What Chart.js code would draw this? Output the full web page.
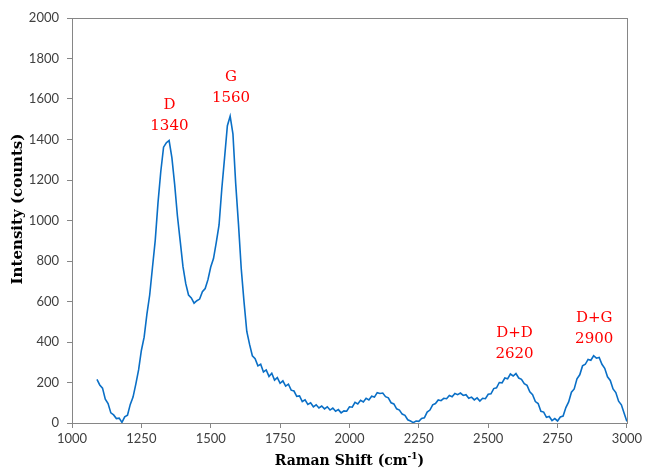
<!DOCTYPE html>
<html lang="en">
<head>
  <meta charset="UTF-8">
  <title>Raman Spectrum</title>
  <script src="https://cdn.jsdelivr.net/npm/chart.js@4.4.0/dist/chart.umd.min.js"></script>
  <style>
    body {
      margin: 0;
      padding: 0;
      background-color: #ffffff;
    }

    #chartBox {
      width: 645px;
      height: 471px;
    }
  </style>
</head>
<body>
  <div id="chartBox">
    <canvas id="ramanChart"></canvas>
  </div>

  <script>
    // Raman shift grid (cm-1): first point and spacing
    const shiftStart = 1090;
    const shiftStep = 10;

    // Intensity (counts), one value per grid step, 1090 .. 3000
    const intensity = [
      215, 188, 172, 118, 96, 50, 40, 22, 24, 3,                 // 1090-1180
      30, 38, 92, 128, 192, 262, 358, 424, 538, 632,             // 1190-1280
      768, 902, 1088, 1242, 1362, 1384, 1395, 1310, 1178, 1022,  // 1290-1380
      898, 772, 688, 632, 618, 592, 604, 612, 648, 664,          // 1390-1480
      708, 770, 812, 892, 978, 1158, 1312, 1468, 1515, 1428,     // 1490-1580
      1182, 982, 762, 598, 452, 388, 332, 318, 282, 290,         // 1590-1680
      252, 262, 230, 246, 212, 224, 196, 208, 182, 192,          // 1690-1780
      162, 158, 132, 134, 106, 114, 92, 100, 80, 90,             // 1790-1880
      74, 84, 70, 80, 64, 74, 58, 66, 50, 60,                    // 1890-1980
      58, 80, 78, 102, 94, 112, 104, 122, 114, 132,              // 1990-2080
      128, 150, 146, 148, 130, 124, 100, 94, 70, 64,             // 2090-2180
      44, 38, 16, 10, 2, 10, 8, 22, 26, 54,                      // 2190-2280
      64, 90, 96, 114, 110, 122, 120, 136, 130, 146,             // 2290-2380
      140, 148, 136, 140, 122, 128, 114, 124, 108, 122,          // 2390-2480
      120, 142, 144, 170, 174, 200, 198, 222, 218, 242,          // 2490-2580
      232, 244, 222, 216, 194, 186, 154, 140, 106, 96,           // 2590-2680
      58, 54, 28, 32, 12, 22, 10, 30, 34, 76,                    // 2690-2780
      104, 152, 168, 218, 238, 282, 290, 314, 310, 332,          // 2790-2880
      320, 324, 290, 270, 228, 210, 168, 150, 108, 90,           // 2890-2980
      48, 8                                                      // 2990-3000
    ];

    // Peak labels
    const peakNames = ['D', 'G', 'D+D', 'D+G'];
    const peakShifts = [1340, 1560, 2620, 2900];
    const peakLabelX = [1351, 1573, 2595, 2882];
    const peakLabelY = [1570, 1709, 444, 518];

    const xTicks = { min: 1000, max: 3000, step: 250 };
    const yTicks = { min: 0, max: 2000, step: 200 };

    const points = intensity.map((v, i) => ({ x: shiftStart + i * shiftStep, y: v }));

    // frame round the plot area (top and right sides)
    const frame = {
      id: 'frame',
      afterDraw(chart) {
        const a = chart.chartArea;
        const ctx = chart.ctx;
        ctx.save();
        ctx.strokeStyle = '#868686';
        ctx.lineWidth = 1;
        ctx.strokeRect(Math.round(a.left) + 0.5, Math.round(a.top) + 0.5,
          Math.round(a.right - a.left), Math.round(a.bottom - a.top));
        ctx.restore();
      }
    };

    // axis titles, drawn by hand so the superscript stays small
    const axisTitles = {
      id: 'axisTitles',
      afterDraw(chart) {
        const ctx = chart.ctx;
        const a = chart.chartArea;
        ctx.save();
        ctx.fillStyle = '#000000';
        ctx.textBaseline = 'alphabetic';

        // x title
        const main = 'Raman Shift (cm';
        const sup = '-1';
        const tail = ')';
        ctx.font = 'bold 14px "DejaVu Serif"';
        const wMain = ctx.measureText(main).width;
        const wTail = ctx.measureText(tail).width;
        ctx.font = 'bold 9px "DejaVu Serif"';
        const wSup = ctx.measureText(sup).width;
        let x = (a.left + a.right) / 2 - (wMain + wSup + wTail) / 2;
        const base = 465;
        ctx.textAlign = 'left';
        ctx.font = 'bold 14px "DejaVu Serif"';
        ctx.fillText(main, x, base);
        x += wMain;
        ctx.font = 'bold 9px "DejaVu Serif"';
        ctx.fillText(sup, x, base - 6);
        x += wSup;
        ctx.font = 'bold 14px "DejaVu Serif"';
        ctx.fillText(tail, x, base);

        // y title
        ctx.translate(18, 209);
        ctx.rotate(-Math.PI / 2);
        ctx.textAlign = 'center';
        ctx.textBaseline = 'middle';
        ctx.font = 'bold 15px "DejaVu Serif"';
        ctx.fillText('Intensity (counts)', 0, 0);
        ctx.restore();
      }
    };

    // red peak annotations, placed through the scales
    const peakText = {
      id: 'peakText',
      afterDatasetsDraw(chart) {
        const ctx = chart.ctx;
        const xs = chart.scales.x;
        const ys = chart.scales.y;
        ctx.save();
        ctx.fillStyle = '#ff0000';
        ctx.font = '15px "DejaVu Serif"';
        ctx.textAlign = 'center';
        ctx.textBaseline = 'middle';
        peakNames.forEach((name, i) => {
          const px = xs.getPixelForValue(peakLabelX[i]);
          const py = ys.getPixelForValue(peakLabelY[i]);
          ctx.fillText(name, px, py);
          ctx.fillText(String(peakShifts[i]), px, py + 21);
        });
        ctx.restore();
      }
    };

    const ctx = document.getElementById('ramanChart').getContext('2d');

    new Chart(ctx, {
      type: 'line',
      data: {
        datasets: [{
          data: points,
          borderColor: '#0a6fc6',
          borderWidth: 1.6,
          pointRadius: 0,
          tension: 0,
          fill: false
        }]
      },
      options: {
        responsive: true,
        maintainAspectRatio: false,
        animation: false,
        layout: {
          padding: { left: 0, right: 0, top: 18, bottom: 0 }
        },
        plugins: {
          legend: { display: false },
          tooltip: { enabled: false }
        },
        scales: {
          x: {
            type: 'linear',
            min: xTicks.min,
            max: xTicks.max,
            afterFit(axis) { axis.height = 48; },
            ticks: {
              stepSize: xTicks.step,
              color: '#404040',
              padding: 3,
              maxRotation: 0,
              callback: (v) => String(v),
              font: { family: 'Lato', size: 13 }
            },
            grid: {
              drawOnChartArea: false,
              drawTicks: true,
              tickLength: 5,
              color: '#868686'
            },
            border: { color: '#868686' }
          },
          y: {
            min: yTicks.min,
            max: yTicks.max,
            afterFit(axis) { axis.width = 72; },
            ticks: {
              stepSize: yTicks.step,
              color: '#404040',
              padding: 8,
              callback: (v) => String(v),
              font: { family: 'Lato', size: 13 }
            },
            grid: {
              drawOnChartArea: false,
              drawTicks: true,
              tickLength: 5,
              color: '#868686'
            },
            border: { color: '#868686' }
          }
        }
      },
      plugins: [frame, axisTitles, peakText]
    });
  </script>
</body>
</html>
